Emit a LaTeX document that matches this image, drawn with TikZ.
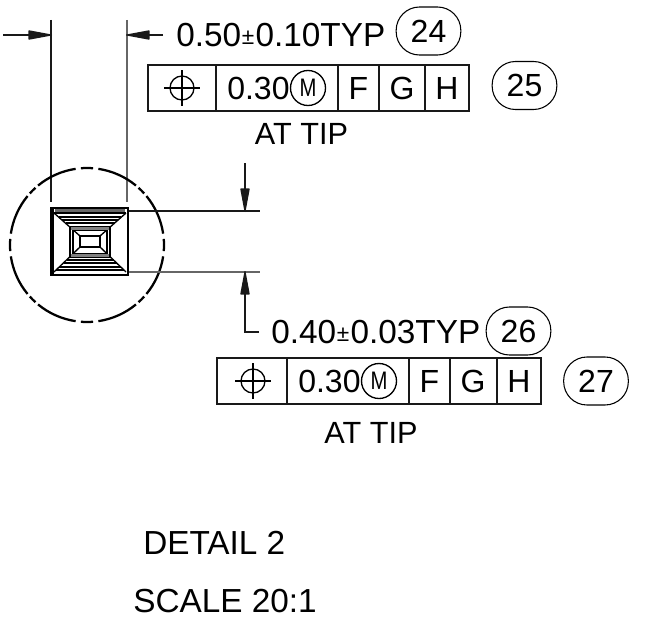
\documentclass[tikz,border=0pt]{standalone}
\usepackage{fontspec}
\setmainfont{Liberation Sans}
\usetikzlibrary{arrows.meta,calc}
\tikzset{
  x=0.75pt,y=-0.75pt,
  thinln/.style={line width=0.8pt,draw=black!90},
  dimtip/.style={-{Triangle[length=19.5pt,width=7pt,round]}},
  balloon/.style={draw=black,line width=0.8pt,rounded corners=17.5pt,minimum width=48.5pt,minimum height=36pt,inner sep=0pt,font=\fontsize{24}{24}\selectfont},
  txt/.style={inner sep=0pt,font=\fontsize{25}{25}\selectfont,anchor=base west},
  fcfcell/.style={inner sep=0pt,font=\fontsize{24}{24}\selectfont,anchor=base},
  tiptxt/.style={inner sep=0pt,font=\fontsize{23}{23}\selectfont,anchor=base},
  titletxt/.style={inner sep=0pt,font=\fontsize{25}{25}\selectfont,anchor=base west},
  shapeln/.style={line width=1pt,black},
  heavy/.style={line width=2.2pt,black},
  dashseg/.style={line width=1.7pt,black},
  symbolln/.style={line width=1pt,black}
}
\newcommand{\posmark}[1]{%
  \draw[symbolln] (#1) circle (12);
  \draw[symbolln] ($(#1)+(-18,0)$) -- ($(#1)+(18,0)$);
  \draw[symbolln] ($(#1)+(0,-18)$) -- ($(#1)+(0,18)$);
}
\newcommand{\mmcmark}[1]{%
  \draw[symbolln] (#1) circle (17.5);
  \node[inner sep=0pt,font=\fontsize{19}{19}\selectfont] at (#1) {\scalebox{0.8}[1]{M}};
}
\newcommand{\plusminus}{\hspace{0.5pt}{\fontsize{17}{17}\selectfont\raisebox{1pt}{±}}\hspace{1pt}}
\begin{document}
\begin{tikzpicture}
\useasboundingbox (0,0) rectangle (652,635);
% extension lines top
\coordinate (eL1) at (51,20); \coordinate (eL2) at (51,202);
\coordinate (eR1) at (127,20); \coordinate (eR2) at (127,202);
\draw[thinln] (eL1) -- (eL2);
\draw[thinln,draw=black!60] (eR1) -- (eR2);
\coordinate (aL0) at (3,35); \coordinate (aL1) at (52,35);
\coordinate (aR0) at (163,35); \coordinate (aR1) at (126,35);
\draw[thinln,dimtip] (aL0) -- (aL1);
\draw[thinln,dimtip] (aR0) -- (aR1);
% detail circle
\foreach \a in {0,90,180,270}{
  \foreach \s/\e in {-4.5/4.5,8.5/39.5,42/48,50.5/81.5}{
    \draw[dashseg] ({87+77*cos(\a+\s)},{245+77*sin(\a+\s)}) arc[start angle=\a+\s,end angle=\a+\e,radius=77];
  }
}
% square
\draw[black!60,line width=2.2pt] (55,210.5) -- (125,210.5);
\foreach \y in {213,217,220,223}{\draw[shapeln] ({54+(\y-213)*27/23},\y) -- ({126-(\y-213)*26/23},\y);}
\foreach \y in {270,267,263,260}{\draw[shapeln] ({54+(272-\y)*27/25},\y) -- ({126-(272-\y)*26/25},\y);}
\draw[shapeln] (54,213) -- (80,236) (126,213) -- (100,236) (126,272) -- (100,247) (54,272) -- (80,247);
\draw[shapeln] (70,227) rectangle (110,257);
\draw[shapeln] (73,230) rectangle (107,254);
\draw[black!50,line width=1.6pt] (71,228.5) -- (109,228.5);
\draw[black!50,line width=1.6pt] (71,255.5) -- (109,255.5);
\draw[shapeln,fill=white] (80,236) rectangle (100,247);
\draw[heavy] (51,208) -- (128,208) -- (128,275) -- (51,275) -- cycle;
\draw[heavy] (53,208) -- (53,275);
% right extension and dims
\coordinate (h1a) at (129,211); \coordinate (h1b) at (260,211);
\coordinate (h2a) at (129,272); \coordinate (h2b) at (260,272);
\draw[thinln] (h1a) -- (h1b);
\draw[thinln,draw=black!60] (h2a) -- (h2b);
\coordinate (d1) at (245,163); \coordinate (d1t) at (245,212);
\coordinate (d2) at (259,332); \coordinate (d2c) at (245,332); \coordinate (d2t) at (245,271);
\draw[thinln,dimtip] (d1) -- (d1t);
\draw[thinln,dimtip] (d2) -- (d2c) -- (d2t);
% top text
\node[txt] (t24) at (176,46) {0.50\plusminus 0.10TYP};
\node[balloon] (b24) at (428.5,31) {24};
\node[balloon] (b25) at (524.5,85.5) {25};
% FCF 1
\draw[thinln] (148,65) rectangle (469,111);
\draw[thinln] (216,65) -- (216,111) (338,65) -- (338,111) (379,65) -- (379,111) (425,65) -- (425,111);
\coordinate (p1) at (182,88);
\posmark{p1}
\node[fcfcell,anchor=base west] (v1) at (227,99) {0.30};
\coordinate (m1) at (308,88);
\mmcmark{m1}
\node[fcfcell] (f1) at (358.5,99) {F};
\node[fcfcell] (g1) at (402,99) {G};
\node[fcfcell] (h1) at (447,99) {H};
\node[tiptxt] (at1) at (301.5,144) {AT TIP};
% second
\node[txt] (t26) at (271,343) {0.40\plusminus 0.03TYP};
\node[balloon] (b26) at (518.5,331) {26};
\node[balloon] (b27) at (596,381) {27};
\draw[thinln] (217,358) rectangle (541,404);
\draw[thinln] (287,358) -- (287,404) (409,358) -- (409,404) (450,358) -- (450,404) (497,358) -- (497,404);
\coordinate (p2) at (253,381);
\posmark{p2}
\node[fcfcell,anchor=base west] (v2) at (298,392) {0.30};
\coordinate (m2) at (379,381);
\mmcmark{m2}
\node[fcfcell] (f2) at (429.5,392) {F};
\node[fcfcell] (g2) at (473,392) {G};
\node[fcfcell] (h2) at (519,392) {H};
\node[tiptxt] (at2) at (371,443) {AT TIP};
% title
\node[titletxt] (det) at (143,554) {DETAIL 2};
\node[titletxt] (sca) at (133,612) {SCALE 20:1};
\end{tikzpicture}
\end{document}
